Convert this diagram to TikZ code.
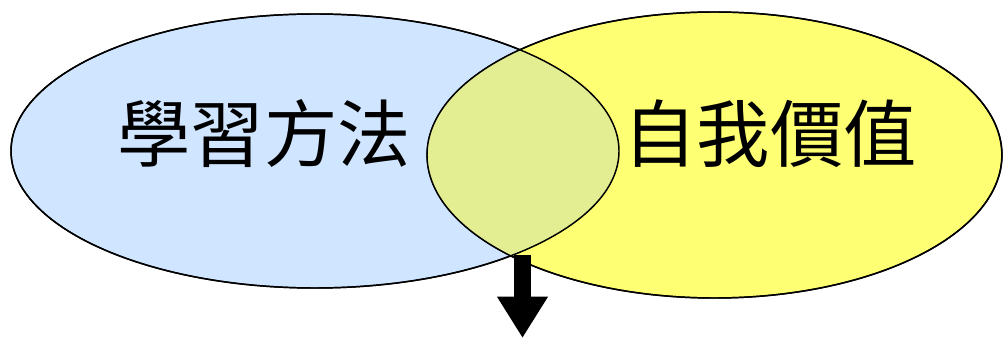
\documentclass[tikz,border=0pt]{standalone}
\usepackage{fontspec}
\newfontfamily\cjk{Noto Sans CJK TC}
\usetikzlibrary{shapes.geometric,arrows.meta}
\definecolor{lblue}{RGB}{208,229,255}
\definecolor{lyellow}{RGB}{255,255,115}
\definecolor{lgreen}{RGB}{226,238,145}
\tikzset{
  venn/.style={ellipse, draw=black, line width=1.1pt, inner sep=0pt},
  vlabel/.style={font=\cjk\fontsize{55}{60}\selectfont, inner sep=0pt, text=black},
}
\begin{document}
\begin{tikzpicture}[x=0.75pt,y=-0.75pt]
\useasboundingbox (0,0) rectangle (1005,338);
\node[venn, fill=lblue, minimum width=456pt, minimum height=205.5pt] (L) at (315,151) {};
\node[venn, fill=lyellow, minimum width=431pt, minimum height=214.5pt] (R) at (714.5,155) {};
\begin{scope}
  \clip (315,151) ellipse [x radius=304, y radius=137];
  \fill[lgreen] (714.5,155) ellipse [x radius=287.5, y radius=143];
\end{scope}
\draw[line width=1.1pt] (315,151) ellipse [x radius=304, y radius=137];
\draw[line width=1.1pt] (714.5,155) ellipse [x radius=287.5, y radius=143];
\node[vlabel] (tl) at (264,134) {學習方法};
\node[vlabel] (tr) at (770,134) {自我價值};
\coordinate (a1) at (522.5,255);
\coordinate (a2) at (522.5,338);
\draw[line width=12.75pt, -{Triangle[width=36pt,length=31pt]}] (a1) -- (a2);
\end{tikzpicture}
\end{document}
